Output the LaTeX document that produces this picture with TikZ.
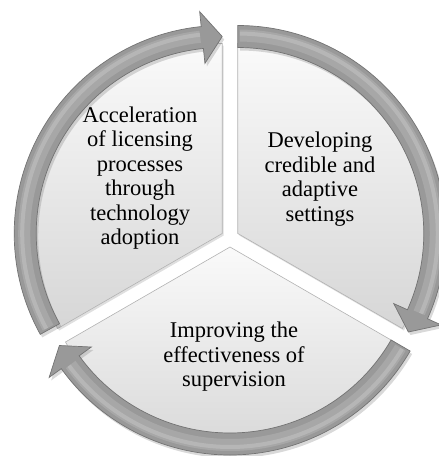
\documentclass[tikz,border=0pt]{standalone}
\usepackage{fontspec}
\setmainfont{Liberation Serif}
\usetikzlibrary{shadows,calc}
\tikzset{
  sectorfill/.style={draw=gray!60, line width=0.6pt, top color=gray!4, bottom color=gray!32,
    drop shadow={opacity=0.25, shadow xshift=1.5pt, shadow yshift=-2pt}},
  ringfill/.style={fill=gray!80, draw=black!55, line width=0.7pt,
    drop shadow={opacity=0.3, shadow xshift=2pt, shadow yshift=-3pt}},
  shinewide/.style={line width=12pt, white, opacity=0.14},
  shinenarrow/.style={line width=4pt, white, opacity=0.18},
  txt/.style={align=center, font=\fontsize{22.5}{24.5}\selectfont, text=black, inner sep=0pt}
}
% ring geometry (pt)
\def\rc{197}   % centre line
\def\ro{208}   % outer
\def\ri{186}   % inner
\def\rh{223}   % head outer
\def\rl{171}   % head inner
\def\hd{5.8}   % head length in degrees
\def\rs{190}   % sector radius
\newcommand\cyclearrow[3]{%
  \begin{scope}[shift={(#1)}]
    \path[ringfill] (#2:\ro pt) arc[start angle=#2, end angle=#3+\hd, radius=\ro pt]
      -- (#3+\hd:\rh pt) -- (#3:\rc pt) -- (#3+\hd:\rl pt) -- (#3+\hd:\ri pt)
      arc[start angle=#3+\hd, end angle=#2, radius=\ri pt] -- cycle;
    \draw[shinewide] (#2-0.6:\rc pt+1pt) arc[start angle=#2-0.6, end angle=#3+\hd+0.6, radius=\rc pt+1pt];
    \draw[shinenarrow] (#2-0.6:\rc pt+3pt) arc[start angle=#2-0.6, end angle=#3+\hd+0.6, radius=\rc pt+3pt];
  \end{scope}}
\newcommand\cyclesector[3]{%
  \path[sectorfill] (#1) -- ++(#2:\rs pt) arc[start angle=#2, end angle=#3, radius=\rs pt] -- cycle;}
\begin{document}
\begin{tikzpicture}[x=1pt, y=1pt]
  \useasboundingbox (0,-456) rectangle (439,0);
  \clip (0,-456) rectangle (439,0);
  \coordinate (O) at (230,-238);
  \coordinate (cl) at ($(O)+(150:9)$);
  \coordinate (cr) at ($(O)+(30:9)$);
  \coordinate (cb) at ($(O)+(270:9)$);
  % sectors
  \cyclesector{cl}{90}{210}
  \cyclesector{cr}{-30}{90}
  \cyclesector{cb}{210}{330}
  % arrows
  \cyclearrow{cl}{209}{90}
  \cyclearrow{cr}{90}{-30}
  \cyclearrow{cb}{-30}{-150}
  % texts
  \node[txt] (tl) at (140,-178) {Acceleration\\of licensing\\processes\\through\\technology\\adoption};
  \node[txt] (tr) at (320,-179) {Developing\\credible and\\adaptive\\settings};
  \node[txt] (tb) at (234,-357) {Improving the\\effectiveness of\\supervision};
\end{tikzpicture}
\end{document}
